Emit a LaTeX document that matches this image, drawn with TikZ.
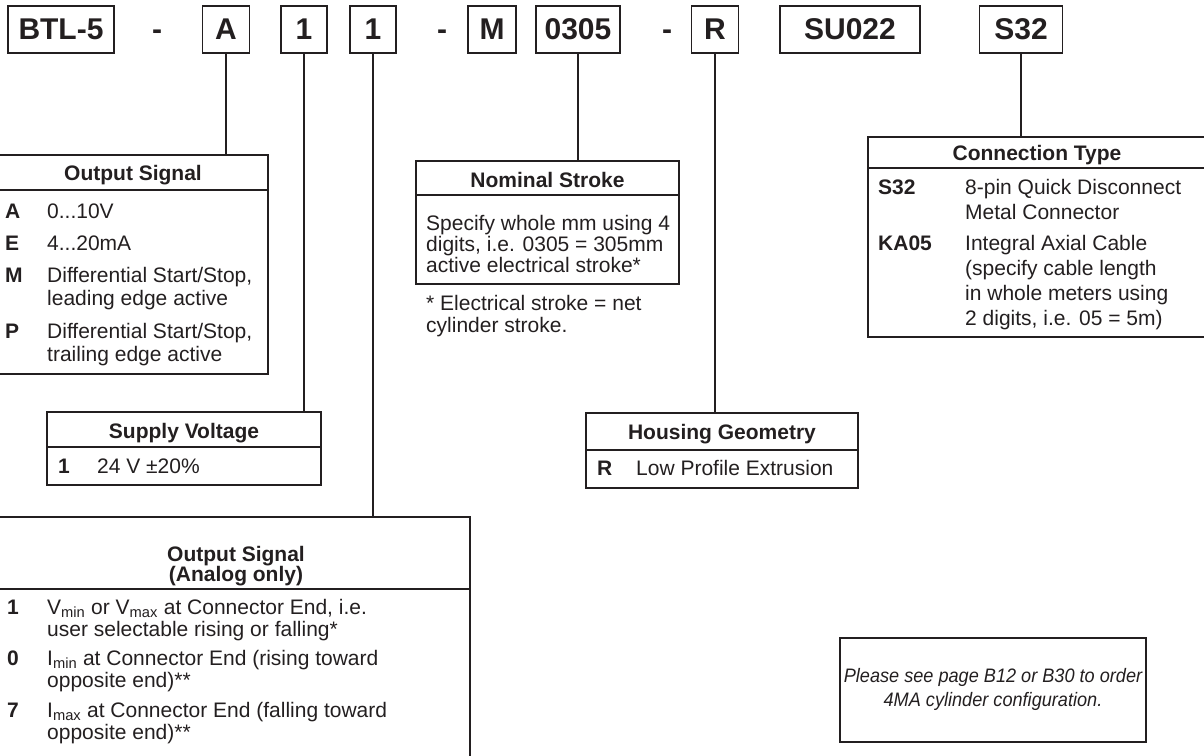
\documentclass[tikz,border=0pt]{standalone}
\usepackage{fontspec}
\setmainfont{Liberation Sans}
\definecolor{ink}{HTML}{231F20}
\begin{document}
\begin{tikzpicture}[x=1pt,y=-1pt,
  codebox/.style={draw=ink, line width=1.5pt, minimum height=47pt, inner sep=0pt, outer sep=0pt,
    font=\fontsize{30}{32}\selectfont\bfseries, text=ink},
  dashsym/.style={font=\fontsize{30}{32}\selectfont\bfseries, text=ink, inner sep=0pt, anchor=base},
  wire/.style={draw=ink, line width=2pt},
  frame/.style={draw=ink, line width=1.6pt, inner sep=0pt, outer sep=0pt, anchor=north west},
  sepline/.style={draw=ink, line width=2.4pt},
  hdr/.style={font=\fontsize{21}{22}\selectfont\bfseries, text=ink, inner sep=0pt, anchor=base},
  key/.style={font=\fontsize{21}{22}\selectfont\bfseries, text=ink, inner sep=0pt, anchor=base west},
  txt/.style={font=\fontsize{21}{22}\selectfont, text=ink, inner sep=0pt, anchor=base west},
  note/.style={font=\fontsize{19.5}{22}\selectfont\itshape\addfontfeature{FakeStretch=0.93}, text=ink, inner sep=0pt, anchor=base}]
\useasboundingbox (0,0) rectangle (1204,755);

% code boxes
\node[codebox, minimum width=106pt] (btl) at (61,29.5) {BTL-5};
\node[dashsym] (d1) at (157,39) {-};
\node[codebox, minimum width=47pt] (a) at (226,29.5) {A};
\node[codebox, minimum width=46pt] (v1) at (304,29.5) {1};
\node[codebox, minimum width=46pt] (v2) at (373,29.5) {1};
\node[dashsym] (d2) at (442,39) {-};
\node[codebox, minimum width=48pt] (m) at (492,29.5) {M};
\node[codebox, minimum width=84pt] (st) at (578,29.5) {0305};
\node[dashsym] (d3) at (667,39) {-};
\node[codebox, minimum width=47pt] (r) at (715,29.5) {R};
\node[codebox, minimum width=140pt] (su) at (850,29.5) {SU022};
\node[codebox, minimum width=83pt] (s32) at (1021,29.5) {S32};

% Output Signal box
\node[frame, minimum width=270pt, minimum height=219pt] (osb) at (-2,155) {};
\draw[sepline] (-2,190) -- (268,190);
\node[hdr] (osh) at (133,180) {Output Signal};
\node[key] (osk1) at (5,218) {A};
\node[txt] (ost1) at (47,218) {0...10V};
\node[key] (osk2) at (5,250) {E};
\node[txt] (ost2) at (47,250) {4...20mA};
\node[key] (osk3) at (5,282) {M};
\node[txt] (ost3) at (47,282) {Differential Start/Stop,};
\node[txt] (ost4) at (47,305) {leading edge active};
\node[key] (osk5) at (5,338) {P};
\node[txt] (ost5) at (47,338) {Differential Start/Stop,};
\node[txt] (ost6) at (47,361) {trailing edge active};

% Supply Voltage box
\node[frame, minimum width=274pt, minimum height=73pt] (svb) at (47,412) {};
\draw[sepline] (47,447) -- (321,447);
\node[hdr] (svh) at (184,438) {Supply Voltage};
\node[key] (svk) at (58,473) {1};
\node[txt] (svt) at (97,473) {24 V ±20\%};

% Output Signal (Analog only) box
\node[frame, minimum width=472pt, minimum height=250pt] (anb) at (-2,517) {};
\draw[sepline] (-2,589) -- (470,589);
\node[hdr] (anh1) at (236,561) {Output Signal};
\node[hdr] (anh2) at (236,581) {(Analog only)};
\node[key] (ank1) at (7,614) {1};
\node[txt] (ant1) at (47,614) {V\textsubscript{min} or V\textsubscript{max} at Connector End, i.e.};
\node[txt] (ant2) at (47,636) {user selectable rising or falling*};
\node[key] (ank3) at (7,665) {0};
\node[txt] (ant3) at (47,665) {I\textsubscript{min} at Connector End (rising toward};
\node[txt] (ant4) at (47,687) {opposite end)**};
\node[key] (ank5) at (7,717) {7};
\node[txt] (ant5) at (47,717) {I\textsubscript{max} at Connector End (falling toward};
\node[txt] (ant6) at (47,739) {opposite end)**};

% Nominal Stroke box
\node[frame, minimum width=263pt, minimum height=123pt] (nsb) at (416,161) {};
\draw[sepline] (416,195) -- (679,195);
\node[hdr] (nsh) at (547.5,187) {Nominal Stroke};
\node[txt] (nst1) at (426,230) {Specify whole mm using 4};
\node[txt] (nst2) at (426,251) {digits, i.e. 0305 = 305mm};
\node[txt] (nst3) at (426,272) {active electrical stroke*};
\node[txt] (nsf1) at (426,310) {* Electrical stroke = net};
\node[txt] (nsf2) at (426,332) {cylinder stroke.};

% Housing Geometry box
\node[frame, minimum width=272pt, minimum height=75pt] (hgb) at (586,413) {};
\draw[sepline] (586,450) -- (858,450);
\node[hdr] (hgh) at (722,439) {Housing Geometry};
\node[key] (hgk) at (597,475) {R};
\node[txt] (hgt) at (636,475) {Low Profile Extrusion};

% Connection Type box
\node[frame, minimum width=340pt, minimum height=200pt] (ctb) at (868,137) {};
\draw[sepline] (868,168) -- (1208,168);
\node[hdr] (cth) at (1037,160) {Connection Type};
\node[key] (ctk1) at (878,194) {S32};
\node[txt] (ctt1) at (965,194) {8-pin Quick Disconnect};
\node[txt] (ctt2) at (965,219) {Metal Connector};
\node[key] (ctk3) at (878,250) {KA05};
\node[txt] (ctt3) at (965,250) {Integral Axial Cable};
\node[txt] (ctt4) at (965,275) {(specify cable length};
\node[txt] (ctt5) at (965,300) {in whole meters using};
\node[txt] (ctt6) at (965,325) {2 digits, i.e. 05 = 5m)};

% note box
\node[frame, line width=2.6pt, minimum width=306pt, minimum height=104pt] (pb) at (840,638) {};
\node[note] (pt1) at (993,682) {Please see page B12 or B30 to order};
\node[note] (pt2) at (993,706) {4MA cylinder configuration.};

% connectors
\draw[wire] (a.south) -- (a.south |- osb.north);
\draw[wire] (v1.south) -- (v1.south |- svb.north);
\draw[wire] (v2.south) -- (v2.south |- anb.north);
\draw[wire] (st.south) -- (st.south |- nsb.north);
\draw[wire] (r.south) -- (r.south |- hgb.north);
\draw[wire] (s32.south) -- (s32.south |- ctb.north);
\end{tikzpicture}
\end{document}
